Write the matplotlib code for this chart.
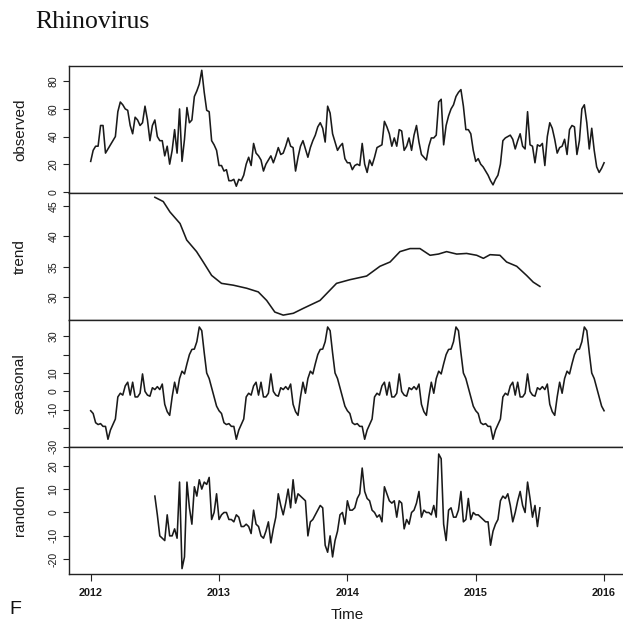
import matplotlib
matplotlib.use("Agg")
import matplotlib.pyplot as plt
import numpy as np

# -------- Data (weekly, frequency 52, start 2012) --------
start_year = 2012
freq = 52

observed = [
    22, 30, 33, 33, 48, 48, 28, 31, 34, 37, 40, 58, 65, 63, 60, 59, 48, 42, 54, 52,
    48, 50, 62, 52, 37, 48, 52, 40, 37, 37, 26, 33, 20, 30, 45, 28, 60, 22, 38, 61,
    50, 52, 69, 73, 78, 88, 72, 59, 58, 37, 34, 30, 19, 19, 15, 16, 8, 8, 9, 4,
    9, 8, 12, 20, 25, 19, 35, 28, 26, 23, 15, 20, 23, 26, 21, 26, 32, 27, 28, 33,
    39, 33, 32, 15, 25, 33, 37, 31, 25, 32, 37, 41, 47, 50, 46, 36, 62, 57, 42, 36,
    30, 33, 35, 24, 21, 21, 16, 19, 20, 19, 35, 20, 14, 23, 19, 25, 32, 33, 34, 51,
    47, 42, 33, 39, 33, 45, 44, 30, 33, 39, 30, 41, 48, 36, 27, 25, 23, 33, 39, 39,
    41, 65, 67, 34, 48, 55, 60, 63, 69, 72, 74, 62, 45, 45, 42, 30, 22, 24, 20, 18,
    15, 12, 8, 5, 9, 12, 20, 37, 39, 40, 41, 38, 31, 37, 42, 33, 31, 58, 34, 33,
    21, 34, 33, 35, 19, 40, 50, 46, 38, 28, 32, 33, 38, 27, 45, 48, 47, 27, 37, 60,
    63, 50, 31, 46, 30, 18, 14, 17, 21,
]

# trend (moving average) read at irregular weeks
trend_week = [26, 29.4, 32.1, 36.2, 38.9, 42.9, 45.6, 49, 53, 57.8, 63.2, 67.9, 71.3,
              74.6, 78, 82.1, 86.1, 92.9, 99.6, 105, 111.8, 117.2, 121.3, 125.3,
              129.4, 133.4, 137.5, 140.9, 144.2, 148.3, 152.3, 156.4, 159.1, 161.8,
              165.8, 168.5, 172.6, 176.6, 179.3, 182]
trend = [46.4, 45.7, 44.0, 42.1, 39.4, 37.5, 35.8, 33.6, 32.3, 32.0, 31.5, 30.9, 29.5,
         27.6, 27.1, 27.4, 28.2, 29.5, 32.3, 32.9, 33.5, 35.1, 35.8, 37.5,
         38.0, 38.0, 36.9, 37.1, 37.5, 37.1, 37.2, 36.9, 36.4, 37.0,
         36.9, 35.8, 35.1, 33.6, 32.5, 31.8]

# one seasonal cycle (52 weeks), repeated by decompose()
seasonal_cycle = [
    -10.5, -12, -17, -18, -17.5, -19, -19, -26, -21, -18, -15, -3, -1, -2, 3, 5,
    -2, 5, -3, -3, -1, 9.5, 0, -2, -2.6, 2, 1, 2.6, 1, 4, -7, -11, -13, -3, 5, -1,
    7, 11, 9.5, 15, 20, 22.8, 23, 27, 35, 33, 21, 10, 7, 2, -3, -8,
]

# remainder, weeks 26..182
random_start = 26
random_part = [
    7, -1, -10, -11, -12, -1, -10, -10, -7, -11, 13, -24, -19, 13, 2, -5, 11, 7, 14, 10,
    13, 12, 15, -3, 0, 8, -3, -1, 0, 0, -3, -3, -4, -1, -2, -6, -6, -5, -6, -9,
    1, -5, -6, -10, -11, -8, -4, -13, -7, -2, 8, 3, -1, 4, 10, 2, 14, 4, 8, 7,
    6, 5, -10, -4, -3, -1, 1, 3, 2, -14, -17, -10, -19, -12, -8, -1, 0, -5, 5, 1,
    1, 2, 6, 8, 19, 9, 6, 5, 1, 0, -2, -1, -4, 11, 8, 5, 4, 5, -2, 5,
    4, -7, -3, -5, 0, 1, 4, 9, -2, 1, 0, 0, -1, 3, -2, 25, 23, -5, -12, 1,
    2, -2, -2, 1, 9, -4, -3, 6, -3, 0, -1, -1, -2, -3, -4, -4, -14, -8, -5, -3,
    5, 7, 6, 8, 3, -4, 0, 5, 9, 3, 0, 13, 6, -2, 3, -6, 2,
]

year_ticks = [2012, 2013, 2014, 2015, 2016]

# -------- Build time axes --------
n = len(observed)
t_obs = start_year + np.arange(n) / freq
t_trend = start_year + np.array(trend_week) / freq
seasonal = np.resize(seasonal_cycle, n)
t_rand = start_year + (random_start + np.arange(len(random_part))) / freq

# -------- Figure --------
plt.rcParams['font.family'] = ['Liberation Sans', 'DejaVu Sans']
W, H = 623, 626
fig = plt.figure(figsize=(W / 100, H / 100), dpi=100)

line_col = '#1a1a1a'
frame_col = '#222222'
txt_col = '#1a1a1a'
left_px, right_px = 69, 625
edges = [66, 193, 320, 447, 574]

panels = [
    ('observed', t_obs, observed, (-0.9, 91.1), [0, 20, 40, 60, 80], None),
    ('trend', t_trend, trend, (26.3, 47.1), [30, 35, 40, 45], None),
    ('seasonal', t_obs, seasonal, (-30.2, 38.8), [-30, -20, -10, 0, 10, 20, 30],
     {-20, 20}),
    ('random', t_rand, random_part, (-26.3, 28.0), [-20, -10, 0, 10, 20], None),
]

xlim = (2011.831, 2016.163)
for k, (name, tx, vy, ylim, yt, hide) in enumerate(panels):
    top, bot = edges[k], edges[k + 1]
    ax = fig.add_axes([left_px / W, 1 - bot / H, (right_px - left_px) / W, (bot - top) / H])
    ax.plot(tx, vy, color=line_col, lw=1.15)
    ax.set_xlim(*xlim)
    ax.set_ylim(*ylim)
    ax.set_yticks(yt)
    ax.set_yticklabels(['' if (hide and v in hide) else str(v) for v in yt],
                       rotation=90, va='center', fontsize=7.6)
    ax.tick_params(axis='y', direction='out', length=4, width=0.8, pad=3.5,
                   colors=frame_col, labelcolor=txt_col)
    ax.set_ylabel(name, fontsize=11, color=txt_col)
    ax.yaxis.set_label_coords(-(69 - 27) / (right_px - left_px), 0.5)
    for s in ax.spines.values():
        s.set_color(frame_col)
        s.set_linewidth(1.0)
    if k < 3:
        ax.set_xticks([])
    else:
        ax.set_xticks(year_ticks)
        ax.set_xticklabels([str(y) for y in year_ticks], fontsize=7.8, fontweight='bold')
        ax.tick_params(axis='x', direction='out', length=5, width=0.8, pad=5,
                       colors=frame_col, labelcolor=txt_col)

fig.text(347 / W, 1 - 615 / H, 'Time', fontsize=11, color=txt_col, ha='center', va='center')
fig.text(35 / W, 1 - 22 / H, 'Rhinovirus', fontsize=18.5,
         family=['Liberation Serif', 'DejaVu Serif'], color='#111111', ha='left', va='center')
fig.text(9 / W, 1 - 610 / H, 'F', fontsize=14, color='#111111', ha='left', va='center')

fig.savefig('out.png', dpi=100)
